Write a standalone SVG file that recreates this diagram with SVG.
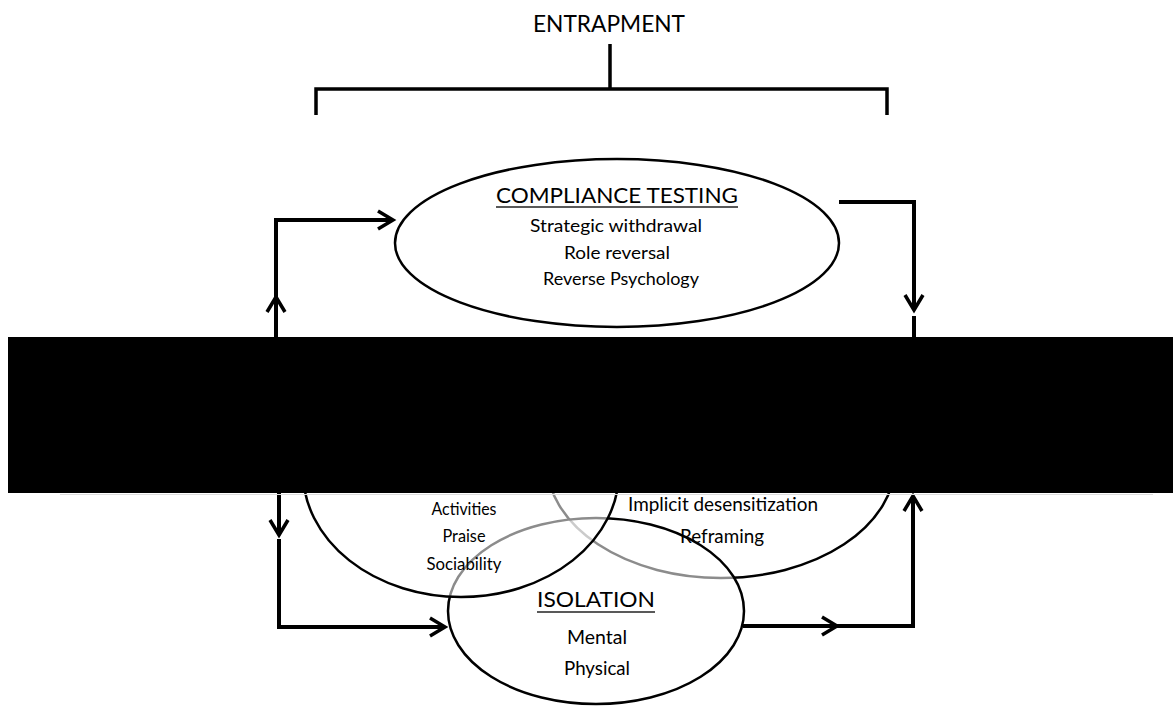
<svg xmlns="http://www.w3.org/2000/svg" width="1173" height="707" viewBox="0 0 1173 707">
<style>
text{font-family:Lato,"Liberation Sans",Arial,sans-serif;fill:#000;text-anchor:middle}
.ell{stroke:#000;stroke-width:2.5}
.ov{fill:#fff;fill-opacity:0.55}
.con{fill:none;stroke:#000;stroke-width:4;stroke-linejoin:miter}
.ul{stroke:#222;stroke-width:1.6}
</style>
<defs>
<marker id="chev" viewBox="-18 -12 22 24" markerWidth="22" markerHeight="24" refX="0" refY="0" orient="auto" markerUnits="userSpaceOnUse">
<path d="M-15,-9 L0,0 L-15,9" fill="none" stroke="#000" stroke-width="3.5" stroke-linejoin="miter"/>
</marker>
</defs>
<rect width="1173" height="707" fill="#fff"/>
<g id="entrapment">
<text x="609" y="32" font-size="22.5" textLength="152" lengthAdjust="spacingAndGlyphs">ENTRAPMENT</text>
<path d="M610,44 V89 M316,115 V89 H887 V115" fill="none" stroke="#000" stroke-width="3.5"/>
</g>
<g id="compliance">
<ellipse class="ell" cx="617" cy="243" rx="222" ry="84" fill="#fff"/>
<text x="617" y="203" font-size="22" textLength="242" lengthAdjust="spacingAndGlyphs">COMPLIANCE TESTING</text>
<line class="ul" x1="496" y1="207" x2="738" y2="207"/>
<text x="616" y="232" font-size="18" textLength="172" lengthAdjust="spacingAndGlyphs">Strategic withdrawal</text>
<text x="617" y="259" font-size="18" textLength="106" lengthAdjust="spacingAndGlyphs">Role reversal</text>
<text x="621" y="285" font-size="18" textLength="156" lengthAdjust="spacingAndGlyphs">Reverse  Psychology</text>
</g>
<g id="desensitization">
<ellipse class="ell" cx="721" cy="463" rx="174" ry="115" fill="#fff"/>
</g>
<g id="isolation">
<ellipse class="ell ov" cx="596" cy="611" rx="148" ry="93"/>
</g>
<g id="friendship">
<ellipse class="ell ov" cx="461" cy="472" rx="158" ry="125"/>
</g>
<g id="labels">
<text x="723" y="511" font-size="19" textLength="190" lengthAdjust="spacingAndGlyphs">Implicit desensitization</text>
<text x="722" y="543" font-size="18.5" textLength="84" lengthAdjust="spacingAndGlyphs">Reframing</text>
<text x="464" y="515" font-size="16.5" textLength="65" lengthAdjust="spacingAndGlyphs">Activities</text>
<text x="464" y="542" font-size="16.5" textLength="43" lengthAdjust="spacingAndGlyphs">Praise</text>
<text x="464" y="570" font-size="16.5" textLength="75" lengthAdjust="spacingAndGlyphs">Sociability</text>
<text x="596" y="607" font-size="22" textLength="118" lengthAdjust="spacingAndGlyphs">ISOLATION</text>
<line class="ul" x1="537" y1="612" x2="655" y2="612"/>
<text x="597" y="644" font-size="19.5" textLength="60" lengthAdjust="spacingAndGlyphs">Mental</text>
<text x="597" y="675" font-size="19.5" textLength="66" lengthAdjust="spacingAndGlyphs">Physical</text>
</g>
<g id="connectors">
<path class="con" d="M276,337 V297" marker-end="url(#chev)"/>
<path class="con" d="M276,297 V220 H393" marker-end="url(#chev)"/>
<path class="con" d="M839,202 H914 V310" marker-end="url(#chev)"/>
<path class="con" d="M914,316 V337"/>
<path class="con" d="M279,493 V535" marker-end="url(#chev)"/>
<path class="con" d="M279,539 V627 H445" marker-end="url(#chev)"/>
<path class="con" d="M743,626 H837" marker-end="url(#chev)"/>
<path class="con" d="M837,626 H913 V496" marker-end="url(#chev)"/>
</g>
<rect id="redaction" x="8" y="337" width="1165" height="156" fill="#000"/>
<line x1="60" y1="494.5" x2="1153" y2="494.5" stroke="#ddd" stroke-width="1"/>
</svg>
